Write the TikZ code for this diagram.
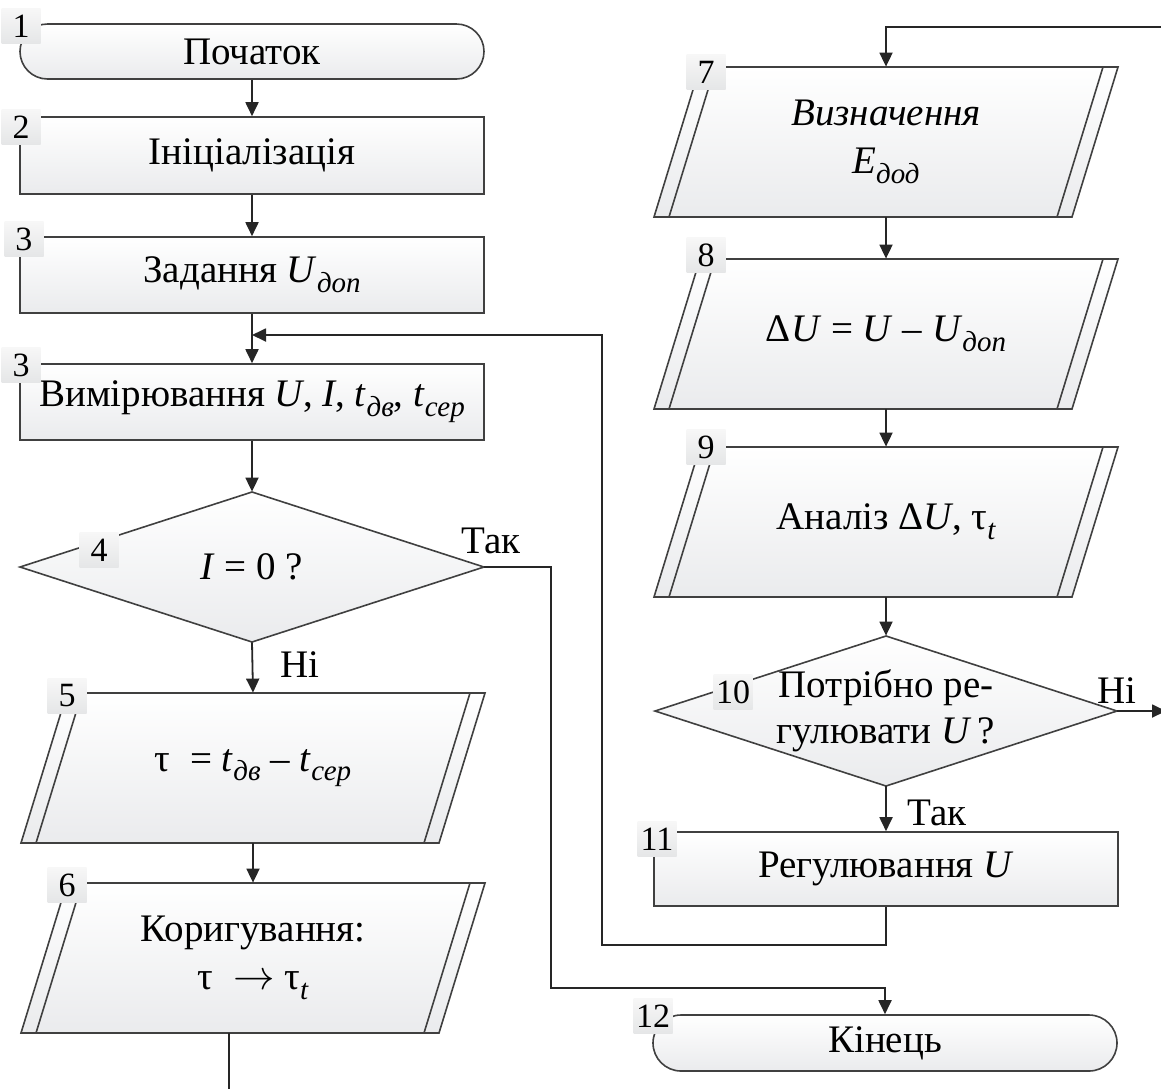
\documentclass[tikz,border=0pt]{standalone}
\usepackage{fontspec}
\setmainfont{Liberation Serif}
\usetikzlibrary{arrows.meta}

\definecolor{edge}{HTML}{404040}
\definecolor{wirec}{HTML}{262626}
\definecolor{fillbot}{HTML}{EAEBED}
\definecolor{tagtop}{HTML}{F7F7F7}
\definecolor{tagbot}{HTML}{E5E6E7}

% italic subscript set in text font
\newcommand{\sbs}[1]{\raisebox{-0.25em}{\fontsize{14.5pt}{15pt}\selectfont\itshape #1}}

\tikzset{
  boxfill/.style={top color=white, bottom color=fillbot, draw=edge, line width=0.8pt},
  txt/.style={font=\fontsize{19.5pt}{22pt}\selectfont, align=center, inner sep=0pt},
  procbox/.style={txt, rectangle, minimum width=232pt, boxfill},
  termbox/.style={procbox, rounded corners=13.75pt, minimum height=27.5pt},
  tag/.style={top color=tagtop, bottom color=tagbot, minimum width=19.5pt,
    minimum height=17.5pt, inner sep=0pt, font=\fontsize{17pt}{17pt}\selectfont},
  edgeline/.style={draw=edge, line width=0.8pt},
  wire/.style={draw=wirec, line width=0.9pt},
  flow/.style={wire, -{Triangle[length=7pt,width=6.5pt]}},
  lbl/.style={font=\fontsize{19.5pt}{22pt}\selectfont, inner sep=0pt},
}

% input/output block: name, centre x, centre y, text
\newcommand{\ioblock}[4]{%
  \shade[boxfill] (#2,#3) ++(-186,-75) -- ++(418,0) -- ++(-46,150) -- ++(-418,0) -- cycle;
  \draw[edgeline] (#2,#3) ++(-171,-75) -- ++(-46,150);
  \draw[edgeline] (#2,#3) ++(217,-75) -- ++(-46,150);
  \node[txt, minimum width=209pt, minimum height=75pt] (#1) at (#2,#3) {#4};
}
% decision block: name, centre x, centre y, half width, text
\newcommand{\decision}[5]{%
  \shade[boxfill] (#2,#3) ++(0,-75) -- ++(#4,75) -- ++(-#4,75) -- ++(-#4,-75) -- cycle;
  \node[txt, minimum width=#4pt, minimum height=75pt] (#1) at (#2,#3) {#5};
}

\begin{document}
\begin{tikzpicture}[x=0.5pt, y=-0.5pt]
\useasboundingbox (0,0) rectangle (1161,1088);

% ---- left column ----
\node[termbox] (n1) at (252,51.5) {Початок};
\node[procbox, minimum height=38.5pt] (n2) at (252,155.5) {Ініціалізація};
\node[procbox, minimum height=38pt] (n3) at (252,275) {Задання \textit{U}\sbs{доп}};
\node[procbox, minimum height=38pt] (n3b) at (252,402)
  {Вимірювання \textit{U}, \textit{I}, \textit{t}\sbs{дв}, \textit{t}\sbs{сер}};
\decision{d4}{252}{567}{232}{\textit{I} = 0 ?}
\ioblock{n5}{253}{768}{τ\ \ = \textit{t}\sbs{дв} – \textit{t}\sbs{сер}}
\ioblock{n6}{253}{958}{Коригування:\\[2pt] τ\ \ $\rightarrow$ τ\sbs{t}}

% ---- right column ----
\ioblock{n7}{886}{142}{\textit{Визначення}\\[2pt] \textit{E}\sbs{дод}}
\ioblock{n8}{886}{334}{Δ\textit{U} = \textit{U} – \textit{U}\sbs{доп}}
\ioblock{n9}{886}{522}{Аналіз Δ\textit{U}, τ\sbs{t}}
\decision{d10}{886}{711}{231}{Потрібно ре-\\[1pt] гулювати \textit{U}\,?}
\node[procbox, minimum height=37pt] (n11) at (886,869) {Регулювання \textit{U}};
\node[termbox, minimum width=232pt, minimum height=28pt, rounded corners=14pt] (n12) at (885,1043) {Кінець};

% ---- block numbers ----
\node[tag] (t1) at (21,26) {1};
\node[tag] (t2) at (21,127) {2};
\node[tag] (t3) at (24,239) {3};
\node[tag] (t3b) at (21,365) {3};
\node[tag] (t4) at (99,550) {4};
\node[tag] (t5) at (67,696) {5};
\node[tag] (t6) at (67,885) {6};
\node[tag] (t7) at (706,72) {7};
\node[tag] (t8) at (706,255) {8};
\node[tag] (t9) at (706,447) {9};
\node[tag] (t10) at (733,692) {10};
\node[tag] (t11) at (657,839) {11};
\node[tag] (t12) at (653,1016) {12};

% ---- helper points ----
\coordinate (loopB) at (602,945);
\coordinate (loopT) at (602,335);
\coordinate (join) at (252,335);
\coordinate (tak1) at (551,988);
\coordinate (topin) at (1175,27);
\coordinate (exitR) at (1166,711);
\coordinate (exitB) at (229,1100);

% ---- connectors ----
\draw[flow] (n1.south) -- (n2.north);
\draw[flow] (n2.south) -- (n3.north);
\draw[flow] (n3.south) -- (n3b.north);
\draw[flow] (n3b.south) -- (d4.north);
\draw[flow] (d4.south) -- (n5.north);
\draw[flow] (n5.south) -- (n6.north);
\draw[wire] (n6.south -| exitB) -- (exitB);
\draw[flow] (d4.east) -| (tak1) -| (n12.north);

\draw[flow] (topin) -| (n7.north);
\draw[flow] (n7.south) -- (n8.north);
\draw[flow] (n8.south) -- (n9.north);
\draw[flow] (n9.south) -- (d10.north);
\draw[flow] (d10.south) -- (n11.north);
\draw[flow] (d10.east) -- (exitR);
\draw[flow] (n11.south) |- (loopB) -- (loopT) -- (join);

% ---- branch labels ----
\node[lbl] (yes4) at (491,541) {Так};
\node[lbl] (no4) at (300,665) {Ні};
\node[lbl] (no10) at (1117,691) {Ні};
\node[lbl] (yes10) at (937,813) {Так};
\end{tikzpicture}
\end{document}
